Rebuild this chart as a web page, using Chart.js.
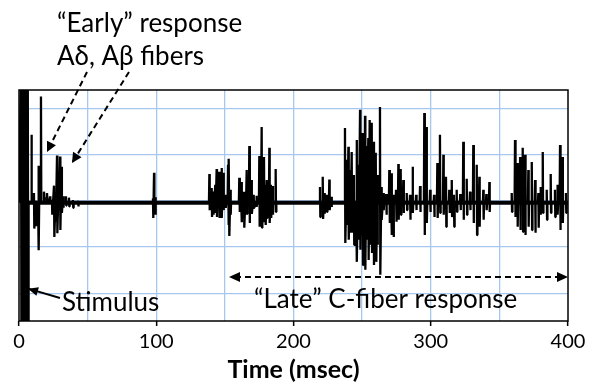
<!DOCTYPE html>
<html>
<head>
<meta charset="utf-8">
<script src="https://cdn.jsdelivr.net/npm/chart.js@4"></script>
<style>
  body { margin: 0; background: #fff; }
  #wrap { width: 600px; height: 391px; }
</style>
</head>
<body>
<div id="wrap"><canvas id="trace" width="600" height="391"></canvas></div>
<script>
// Time axis (msec): gridlines every 50, labels every 100
const xTicks = [0, 50, 100, 150, 200, 250, 300, 350, 400];
const xLabels = ['0', '', '100', '', '200', '', '300', '', '400'];
const yTicks = [-2, -1, 0, 1, 2];
const baselineLevel = -0.04;

// Spike events: time (msec), peak, trough (grid units)
const spikeTimes = [
    1.5, 3.0, 3.6, 4.2, 4.8, 5.4, 6.0, 6.5,
    9.1, 10.9, 12.4, 14.2, 16.0, 18.2, 20.4, 22.6, 24.0, 25.5, 26.6, 27.7, 28.8, 29.9, 31.0, 32.1, 34.2, 36.4, 39.3, 43.0,
    97.6, 98.4, 99.2,
    138.7, 140.4, 141.5, 143.0, 144.0, 145.9, 147.0, 147.6, 148.8, 150.5, 152.3, 153.0, 154.0,
    160.5, 162.2, 163.9, 165.0, 165.9, 167.8, 169.5, 171.0, 173.0, 175.1, 176.0, 176.8, 178.5, 179.5, 180.5, 182.4, 183.5, 184.8, 187.0,
    219.3, 221.3, 222.5, 224.2, 226.1, 227.5,
    237.5, 239.0, 240.0, 241.2, 242.4, 244.0, 246.0, 247.3, 248.5, 249.5, 250.4, 252.1, 253.2, 254.5, 255.5, 257.0, 258.4, 259.5, 260.1, 261.0, 263.0, 264.0, 265.5,
    267.5, 269.8, 271.5, 272.7, 274.7, 276.4, 278.1, 280.0, 282.5, 284.9, 286.8, 289.3, 292.2, 295.3, 297.0, 299.5, 302.4, 304.8, 306.7, 309.2,
    311.1, 313.5, 315.3, 316.9, 318.9, 321.5, 323.7, 326.2, 328.6, 331.0, 333.5, 335.4, 338.3, 340.5, 342.7,
    359.0, 361.4, 363.1, 365.1, 367.0, 368.7, 371.1, 373.6, 376.0, 378.4, 380.0, 381.6, 384.5, 387.4, 390.5, 392.3, 394.2, 396.1, 398.5
];
const spikeHigh = [
    3, 3, 3, 3, 3, 3, 3, 3,
    1.43, 0.17, 0.0, 0.76, 2.26, 0.2, 0.17, 0.1, 0.02, 0.33, 0.05, 0.98, 0.3, 0.96, 0.74, 0.1, 0.1, 0.07, 0.02, 0.0,
    0.05, 0.61, 0.08,
    0.58, 0.28, 0.2, 0.35, 0.69, 0.63, 0.24, 0.71, 0.61, 0.13, 0.78, 0.91, 0.24,
    0.5, 0.41, 0.2, 0.13, 0.67, 1.19, 0.45, 0.13, 0.11, 0.97, 0.56, 1.6, 0.95, 0.35, 0.45, 1.15, 0.35, 0.32, 0.69,
    0.3, 0.52, 0.17, 0.13, 0.46, 0.09,
    1.58, 0.89, 1.17, 0.67, 1.06, 0.56, 1.32, 0.78, 1.97, 1.1, 1.47, 1.84, 1.19, 1.36, 1.75, 1.69, 1.28, 0.78, 1.04, 0.56, 2.03, 0.3, 0.17,
    0.15, 0.67, 0.6, 0.13, 0.24, 0.8, 0.69, 0.45, 0.17, 0.13, 0.74, 0.13, 0.32, 1.9, 1.6, 0.24, 0.13, 0.82, 1.43, 1.0,
    0.52, 0.24, 0.45, 0.13, 0.24, 0.15, 1.28, 0.48, 0.2, 1.21, 0.78, 0.52, 0.24, 0.15, 0.41,
    0.17, 1.32, 0.82, 0.95, 1.15, 1.0, 0.67, 0.84, 0.45, 0.17, 0.3, 1.06, 0.24, 0.58, 0.24, 0.35, 1.21, 0.95, 0.17
];
const spikeLow = [
    -3, -3, -3, -3, -3, -3, -3, -3,
    0.17, -0.6, -0.55, -1.07, 0.0, 0.08, 0.05, -0.05, -0.3, -0.78, -0.45, -0.7, -0.15, -0.63, -0.26, -0.15, -0.1, -0.12, -0.15, -0.12,
    -0.37, -0.15, -0.3,
    -0.2, -0.35, -0.3, -0.26, -0.35, -0.37, -0.24, -0.37, -0.2, -0.15, -0.52, -0.76, -0.3,
    -0.24, -0.46, -0.58, -0.3, -0.28, -0.48, -0.28, -0.15, -0.13, -0.56, -0.41, -0.58, -0.46, -0.52, -0.37, -0.48, -0.37, -0.3, -0.24,
    -0.35, -0.39, -0.28, -0.24, -0.2, -0.13,
    -0.91, -0.52, -0.84, -0.69, -0.69, -0.95, -1.32, -0.84, -1.06, -0.74, -1.39, -1.49, -0.84, -1.28, -0.95, -1.13, -1.39, -1.06, -1.32, -0.95, -1.6, -0.41, -0.2,
    -0.3, -0.48, -0.74, -0.78, -0.45, -0.41, -0.3, -0.26, -0.2, -0.41, -0.26, -0.2, -0.24, -0.74, -0.48, -0.24, -0.35, -0.37, -0.26, -0.3,
    -0.56, -0.26, -0.35, -0.56, -0.24, -0.2, -0.41, -0.3, -0.2, -0.48, -0.74, -0.56, -0.41, -0.2, -0.24,
    -0.24, -0.35, -0.56, -0.63, -0.67, -0.74, -0.56, -0.63, -0.69, -0.58, -0.3, -0.26, -0.41, -0.26, -0.35, -0.3, -0.63, -0.48, -0.26
];

// Build the trace: each spike goes up then down; drop back to baseline when the next one is far off
const trace = [{ x: 0, y: baselineLevel }];
for (let i = 0; i < spikeTimes.length; i++) {
    const t = spikeTimes[i];
    trace.push({ x: t, y: spikeHigh[i] });
    trace.push({ x: t + 0.25, y: spikeLow[i] });
    const next = spikeTimes[i + 1];
    if (next === undefined || next - t > 1.6) {
        trace.push({ x: t + 0.5, y: baselineLevel });
        if (next !== undefined) trace.push({ x: next - 0.3, y: baselineLevel });
    }
}
trace.push({ x: 400, y: baselineLevel });

const baseline = [{ x: 7, y: baselineLevel }, { x: 400, y: baselineLevel }];

const FONT = 'Lato';
const gridBlue = '#a6c8ee';

function arrowHead(ctx, x1, y1, x2, y2, len, half) {
    const a = Math.atan2(y2 - y1, x2 - x1);
    ctx.beginPath();
    ctx.moveTo(x2, y2);
    ctx.lineTo(x2 - len * Math.cos(a) + half * Math.sin(a), y2 - len * Math.sin(a) - half * Math.cos(a));
    ctx.lineTo(x2 - len * Math.cos(a) - half * Math.sin(a), y2 - len * Math.sin(a) + half * Math.cos(a));
    ctx.closePath();
    ctx.fill();
}

function line(ctx, x1, y1, x2, y2, dash) {
    ctx.setLineDash(dash);
    ctx.beginPath();
    ctx.moveTo(x1, y1);
    ctx.lineTo(x2, y2);
    ctx.stroke();
    ctx.setLineDash([]);
}

// Frame round the plot plus the labels and arrows
const annotations = {
    id: 'annotations',
    afterDraw(chart) {
        const ctx = chart.ctx;
        const a = chart.chartArea;
        const xs = chart.scales.x, ys = chart.scales.y;
        ctx.save();
        ctx.strokeStyle = '#000';
        ctx.lineWidth = 1.5;
        ctx.strokeRect(a.left, a.top, a.right - a.left, a.bottom - a.top);

        ctx.fillStyle = '#000';
        ctx.font = '26px ' + FONT;
        ctx.textBaseline = 'alphabetic';
        ctx.fillText('\u201cEarly\u201d response', 57, 32);
        ctx.fillText('A\u03b4, A\u03b2 fibers', 57, 65);
        ctx.fillText('Stimulus', 62, 311);
        ctx.fillText('\u201cLate\u201d C-fiber response', 254, 308);

        ctx.strokeStyle = '#000';
        ctx.lineWidth = 2;
        // early response arrows
        let ex = xs.getPixelForValue(20.4), ey = ys.getPixelForValue(1.06);
        line(ctx, 87, 72, ex, ey, [6, 4]);
        arrowHead(ctx, 87, 72, ex, ey, 10, 5);
        ex = xs.getPixelForValue(38.6); ey = ys.getPixelForValue(0.82);
        line(ctx, 129, 72, ex, ey, [6, 4]);
        arrowHead(ctx, 129, 72, ex, ey, 10, 5);
        // stimulus arrow
        ex = xs.getPixelForValue(6.6); ey = ys.getPixelForValue(-1.9);
        line(ctx, 60, 298, ex, ey, []);
        arrowHead(ctx, 60, 298, ex, ey, 10, 4.5);
        // late response span
        const lx1 = xs.getPixelForValue(153), lx2 = xs.getPixelForValue(400), ly = ys.getPixelForValue(-1.65);
        line(ctx, lx1 + 6, ly, lx2 - 6, ly, [6, 4]);
        arrowHead(ctx, lx2, ly, lx1, ly, 11, 5);
        arrowHead(ctx, lx1, ly, lx2, ly, 11, 5);
        ctx.restore();
    }
};

const ctx = document.getElementById('trace').getContext('2d');
const chart = new Chart(ctx, {
    type: 'line',
    data: {
        datasets: [
            {
                data: trace,
                borderColor: '#000',
                borderWidth: 2.3,
                borderJoinStyle: 'bevel',
                pointRadius: 0,
                tension: 0
            },
            {
                data: baseline,
                borderColor: '#000',
                borderWidth: 4,
                pointRadius: 0
            }
        ]
    },
    options: {
        responsive: false,
        animation: false,
        layout: { padding: { left: 19, right: 32, top: 90, bottom: 0 } },
        plugins: { legend: { display: false }, tooltip: { enabled: false } },
        scales: {
            x: {
                type: 'linear',
                min: 0,
                max: 400,
                afterBuildTicks: s => { s.ticks = xTicks.map(v => ({ value: v })); },
                afterFit: s => { s.height = 70; },
                border: { display: false },
                grid: {
                    color: c => (c.tick && (c.tick.value === 0 || c.tick.value === 400)) ? 'rgba(0,0,0,0)' : gridBlue,
                    lineWidth: 1.3,
                    tickLength: 5,
                    tickColor: c => (c.tick && c.tick.value % 100 === 0) ? '#000' : 'rgba(0,0,0,0)',
                    tickWidth: 1.5
                },
                ticks: {
                    autoSkip: false,
                    maxRotation: 0,
                    padding: 4,
                    color: '#000',
                    font: { family: FONT, size: 20 },
                    callback: (v, i) => xLabels[i]
                },
                title: {
                    display: true,
                    text: 'Time (msec)',
                    color: '#000',
                    font: { family: FONT, size: 25, weight: 'bold' },
                    padding: { top: 0, bottom: 6 }
                }
            },
            y: {
                min: -2.6,
                max: 2.4,
                afterBuildTicks: s => { s.ticks = yTicks.map(v => ({ value: v })); },
                afterFit: s => { s.width = 0; },
                border: { display: false },
                grid: { color: gridBlue, lineWidth: 1.3, drawTicks: false },
                ticks: { display: false }
            }
        }
    },
    plugins: [annotations]
});
</script>
</body>
</html>
